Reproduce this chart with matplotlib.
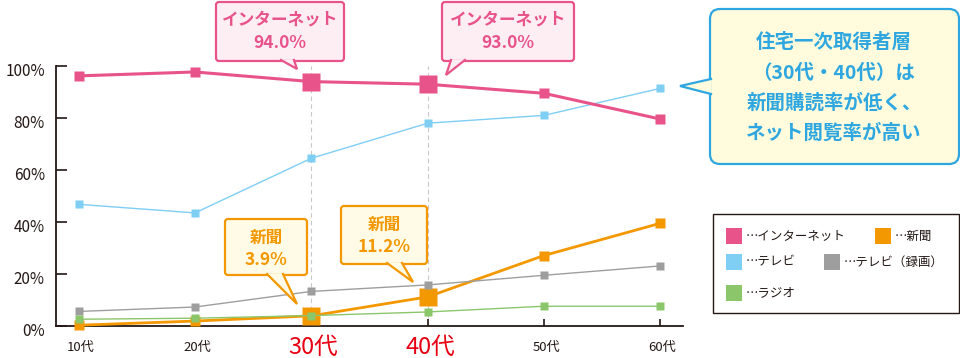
import numpy as np
import matplotlib.pyplot as plt
import matplotlib.transforms as mtransforms
from matplotlib.patches import FancyBboxPatch, Polygon, Rectangle

plt.rcParams['font.family'] = ['Noto Sans CJK JP', 'DejaVu Sans']

# data (percent)
ages = ['10代', '20代', '30代', '40代', '50代', '60代']
internet = [96.2, 97.7, 94.0, 93.0, 89.5, 79.6]
tv = [46.8, 43.5, 64.5, 78.0, 81.0, 91.4]
newspaper = [0.3, 1.9, 3.9, 11.2, 27.1, 39.5]
tv_rec = [5.6, 7.3, 13.3, 15.8, 19.5, 23.1]
radio = [2.6, 3.0, 4.0, 5.4, 7.6, 7.6]
highlight = [2, 3]  # 30代, 40代
yticks = [0, 20, 40, 60, 80, 100]

PINK = '#e8538a'
BLUE = '#7fcef4'
ORANGE = '#f39800'
GRAY = '#9e9e9f'
GREEN = '#8cc66b'
RED = '#e60012'
DARK = '#231815'

fig = plt.figure(figsize=(9.6, 3.58), dpi=100)
ax = fig.add_axes([56 / 960, 1 - 326 / 358, (683 - 56) / 960, 260 / 358])
x = np.arange(len(ages))

ax.plot(x, tv, color=BLUE, lw=1.0, marker='s', ms=5.5, mec='none', zorder=2, clip_on=False)
ax.plot(x, internet, color=PINK, lw=2.2, marker='s', ms=7.5, mec='none', zorder=3, clip_on=False)
ax.plot(x, newspaper, color=ORANGE, lw=2.0, marker='s', ms=7, mec='none', zorder=3, clip_on=False)
ax.plot(x, tv_rec, color=GRAY, lw=1.0, marker='s', ms=5.5, mec='none', zorder=4, clip_on=False)
ax.plot(x, radio, color=GREEN, lw=1.0, marker='s', ms=5.5, mec='none', zorder=5, clip_on=False)

# bigger markers on the highlighted ages
hx = x[highlight]
ax.plot(hx, [internet[i] for i in highlight], ls='none', marker='s', ms=13.5,
        color=PINK, mec='none', zorder=3.5, clip_on=False)
ax.plot(hx, [newspaper[i] for i in highlight], ls='none', marker='s', ms=13,
        color=ORANGE, mec='none', zorder=3.5, clip_on=False)
for i in highlight:
    ax.axvline(i, ymin=0, ymax=1, color='#c8c8c8', lw=0.8, ls=(0, (4, 3)), zorder=1)

ax.set_xlim(-0.195, 5.196)
ax.set_ylim(0, 100)
ax.set_yticks(yticks)
ax.set_yticklabels([f'{v}%' for v in yticks])
ax.set_xticks(x)
ax.set_xticklabels([])
ax.tick_params(axis='y', direction='in', length=8, width=1.2, color=DARK,
               labelsize=11, labelcolor=DARK, pad=8)
ax.tick_params(axis='x', direction='in', length=5, width=1.2, color=DARK)
for s in ['top', 'right']:
    ax.spines[s].set_visible(False)
for s in ['left', 'bottom']:
    ax.spines[s].set_color(DARK)
    ax.spines[s].set_linewidth(1.3)

# labels sit a little below their ticks in the original
shift = mtransforms.ScaledTranslation(0, -4 / 100, fig.dpi_scale_trans)
for lbl in ax.get_yticklabels():
    lbl.set_transform(lbl.get_transform() + shift)

for i, lab in enumerate(ages):
    big = i in highlight
    ax.text(i + 0.02, -0.082, lab, transform=ax.get_xaxis_transform(),
            ha='center', va='center', fontsize=17 if big else 9.5,
            color=RED if big else DARK, clip_on=False)

# overlay in pixel coordinates for callouts and legend
ov = fig.add_axes([0, 0, 1, 1])
ov.set_xlim(0, 960)
ov.set_ylim(358, 0)
ov.axis('off')


def callout(x0, y0, x1, y1, tail, face, edge, lw=1.6, r=3):
    box = FancyBboxPatch((x0, y0), x1 - x0, y1 - y0,
                         boxstyle=f'round,pad=0,rounding_size={r}',
                         fc=face, ec=edge, lw=lw, zorder=10)
    ov.add_patch(box)
    ov.add_patch(Polygon(tail, closed=True, fc=face, ec='none', zorder=11))
    ov.plot([tail[0][0], tail[1][0], tail[2][0]], [tail[0][1], tail[1][1], tail[2][1]],
            color=edge, lw=lw, solid_joinstyle='miter', zorder=12)


def label(cx, y1, y2, head, value, color):
    ov.text(cx, y1, head, ha='center', va='center', fontsize=12, color=color,
            fontweight='bold', zorder=13)
    ov.text(cx, y2, value, ha='center', va='center', fontsize=12.5, color=color,
            fontweight='bold', zorder=13)


PINK_FACE = '#fdeef4'
ORANGE_FACE = '#fffbe6'
BLUE_FACE = '#fffbdc'
BLUE_EDGE = '#2ea7e0'

callout(216, 2, 344, 61, [(281, 60), (297, 69), (294, 60)], PINK_FACE, PINK)
label(280, 19, 43, 'インターネット', '94.0%', PINK)

callout(442, 2, 574, 61, [(451, 60), (446, 75), (465, 60)], PINK_FACE, PINK)
label(508, 19, 43, 'インターネット', '93.0%', PINK)

callout(225, 219, 307, 275, [(267, 274), (297, 304), (283, 274)], ORANGE_FACE, ORANGE)
label(266, 238, 260, '新聞', '3.9%', ORANGE)

callout(341, 206, 427, 264, [(387, 263), (413, 282), (402, 263)], ORANGE_FACE, ORANGE)
label(384, 225, 247, '新聞', '11.2%', ORANGE)

callout(710, 9, 959, 164, [(711, 79), (680, 86), (711, 94)], BLUE_FACE, BLUE_EDGE, lw=1.6, r=10)
for yy, line in zip([42, 73, 103, 133],
                    ['住宅一次取得者層', '（30代・40代）は', '新聞購読率が低く、', 'ネット閲覧率が高い']):
    ov.text(834, yy, line, ha='center', va='center', fontsize=14, color=BLUE_EDGE,
            fontweight='bold', zorder=13)

# legend
ov.add_patch(Rectangle((713, 214), 246, 99, fc='white', ec=DARK, lw=1.0, zorder=10))
legend_items = [
    (726, 236, PINK, '…インターネット'),
    (875, 236, ORANGE, '…新聞'),
    (726, 262, BLUE, '…テレビ'),
    (824, 262, GRAY, '…テレビ（録画）'),
    (726, 293, GREEN, '…ラジオ'),
]
for lx, ly, col, lab in legend_items:
    ov.add_patch(Rectangle((lx, ly - 8), 16, 16, fc=col, ec='none', zorder=11))
    ov.text(lx + 20, ly, lab, ha='left', va='center', fontsize=9, color=DARK, zorder=12)

fig.savefig('out.png', dpi=100)
